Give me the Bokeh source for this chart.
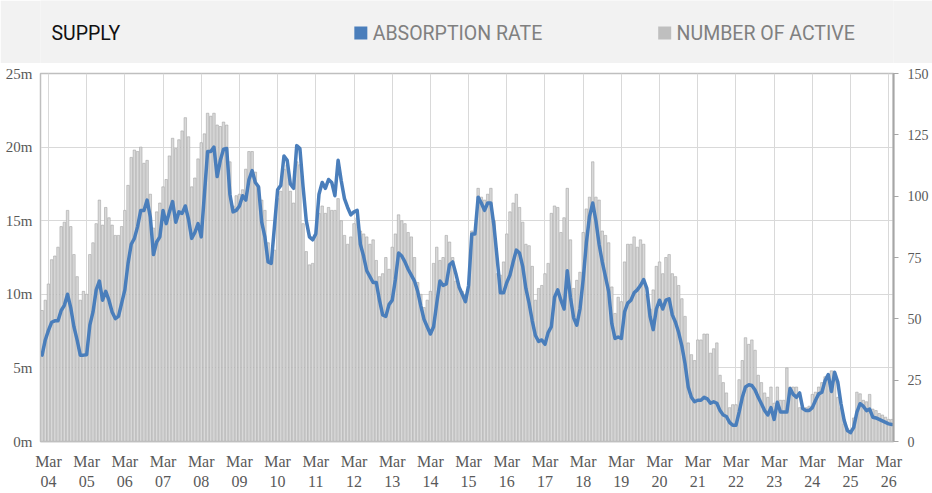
import pandas as pd
from bokeh.plotting import figure
from bokeh.models import Range1d, LinearAxis, FixedTicker, ColumnDataSource, PrintfTickFormatter
from bokeh.layouts import column
from bokeh.core.properties import value
from bokeh.embed import file_html
from bokeh.resources import INLINE

# ---------------- data (monthly, Jan 2004 .. Apr 2026) ----------------
# NUMBER OF ACTIVE (bars, left axis, millions)
active = [
    8.9, 9.6, 10.7, 12.35, 12.6, 13.2, 14.6, 14.9, 15.7, 14.6, 12.7, 11.2,
    9.6, 10.2, 10.0, 12.7, 13.5, 14.8, 16.4, 14.7, 15.9, 15.2, 14.7, 14.0,
    14.0, 14.6, 15.7, 17.4, 19.3, 19.8, 19.7, 20.0, 18.9, 19.1, 16.8, 14.5,
    15.6, 16.2, 17.3, 17.8, 19.4, 20.6, 19.9, 20.5, 21.1, 22.0, 20.7, 17.3,
    17.9, 19.2, 20.3, 20.9, 22.3, 22.1, 22.3, 21.5, 21.4, 21.7, 21.5, 19.0,
    16.0, 16.7, 16.8, 17.1, 18.5, 19.7, 19.7, 18.3, 17.3, 16.4, 15.7, 13.5,
    12.3, 13.0, 16.5, 17.0, 18.5, 18.8, 17.0, 16.2, 19.0, 18.8, 14.8, 12.9,
    12.0, 12.1, 14.0, 15.5, 16.0, 15.5, 15.9, 15.7, 15.7, 16.5, 15.0, 14.0,
    13.4, 13.9, 14.8, 15.2, 14.3, 14.1, 13.9, 13.4, 13.7, 12.3, 11.2, 11.4,
    12.5, 11.7, 13.2, 14.1, 15.4, 15.0, 14.8, 14.2, 13.9, 12.5, 10.8, 10.0,
    9.1, 9.6, 10.2, 12.1, 13.2, 12.3, 12.5, 14.0, 13.55, 12.5, 10.9, 10.5,
    10.2, 10.0, 10.5, 14.3, 14.1, 17.2, 16.6, 16.4, 16.8, 17.2, 15.0, 11.4,
    11.3, 12.2, 14.1, 15.6, 16.2, 16.8, 15.9, 14.9, 13.4, 13.3, 11.9, 9.6,
    10.4, 10.6, 11.4, 12.1, 15.5, 16.0, 15.9, 14.2, 15.2, 17.2, 13.7, 10.4,
    10.95, 11.5, 14.2, 15.8, 16.6, 19.0, 16.6, 16.4, 14.3, 14.0, 13.5, 10.5,
    8.7, 9.8, 9.5, 12.2, 13.4, 13.4, 13.9, 13.2, 13.7, 13.4, 10.0, 9.0,
    10.3, 11.9, 12.2, 11.4, 12.5, 12.7, 11.4, 11.2, 10.6, 9.7, 8.5, 6.7,
    5.9, 5.5, 6.9, 6.9, 7.3, 7.3, 6.0, 6.3, 6.7, 4.5, 4.0, 3.3,
    2.3, 2.5, 2.5, 4.2, 5.5, 7.05, 6.6, 6.9, 6.2, 4.5, 4.0, 3.3,
    3.0, 3.7, 2.6, 3.7, 2.8, 2.8, 5.0, 3.7, 3.7, 3.7, 2.3, 2.3,
    2.3, 2.4, 3.2, 3.35, 3.7, 4.0, 4.4, 4.5, 4.8, 4.2, 3.0, 2.3,
    1.2, 0.9, 0.75, 1.6, 3.35, 3.24, 2.8, 2.7, 3.2, 2.2, 2.1, 1.9,
    1.8, 1.65, 1.5, 1.5,
]

# ABSORPTION RATE (line, right axis 0..150)
absorption = [
    35.2, 41.4, 45.3, 48.6, 49.2, 49.2, 53.4, 55.5, 60.0, 54.6, 46.8, 41.4,
    35.2, 35.2, 35.4, 47.4, 52.8, 61.8, 65.4, 57.6, 61.2, 57.6, 52.8, 50.1,
    51.0, 56.4, 61.8, 72.6, 80.4, 82.8, 87.6, 94.2, 94.2, 98.4, 91.5, 76.2,
    81.3, 83.4, 94.2, 88.8, 93.6, 97.8, 89.4, 93.6, 93.0, 96.0, 90.6, 82.8,
    85.2, 88.8, 83.4, 100.8, 118.2, 118.2, 120.0, 108.0, 114.6, 119.1, 119.4, 100.8,
    93.6, 94.2, 96.0, 100.2, 98.4, 106.8, 110.4, 105.6, 103.8, 89.4, 83.4, 73.2,
    72.6, 87.6, 102.6, 104.4, 116.4, 114.6, 105.0, 103.2, 120.6, 119.4, 103.8, 90.0,
    83.4, 82.2, 84.6, 100.8, 105.6, 103.2, 106.8, 105.6, 100.2, 114.6, 106.2, 99.0,
    95.4, 92.4, 93.6, 94.2, 80.4, 75.6, 69.6, 67.2, 64.8, 64.8, 57.6, 51.6,
    51.0, 55.8, 57.6, 66.0, 76.8, 75.6, 73.2, 70.2, 67.8, 65.4, 61.2, 55.2,
    49.8, 46.8, 43.8, 46.8, 56.4, 65.4, 63.6, 64.2, 72.0, 73.2, 68.4, 63.0,
    60.0, 57.0, 63.6, 84.6, 84.6, 99.6, 97.2, 94.2, 97.2, 97.2, 87.6, 74.4,
    60.6, 60.6, 64.8, 67.8, 73.2, 78.0, 76.8, 71.4, 62.4, 56.4, 49.2, 43.2,
    40.8, 41.4, 39.6, 44.4, 46.8, 58.8, 61.8, 57.6, 54.0, 69.6, 58.8, 50.4,
    47.4, 54.0, 66.0, 81.0, 91.8, 97.2, 90.0, 80.4, 73.2, 67.2, 61.2, 48.0,
    42.0, 42.6, 42.0, 52.8, 56.4, 57.6, 60.6, 61.8, 63.6, 66.0, 62.4, 51.0,
    45.6, 54.0, 57.6, 54.0, 57.6, 58.2, 51.6, 48.6, 44.4, 39.0, 31.8, 22.2,
    18.0, 16.2, 16.8, 16.8, 18.0, 17.4, 15.6, 16.2, 15.6, 12.6, 10.8, 10.2,
    7.8, 6.6, 6.6, 12.0, 18.0, 22.2, 23.1, 22.8, 21.0, 18.0, 15.4, 12.6,
    10.8, 13.8, 9.0, 16.0, 12.0, 12.0, 12.0, 21.6, 19.2, 18.0, 19.8, 13.4,
    12.6, 12.6, 13.8, 16.8, 19.4, 20.1, 24.8, 27.3, 20.4, 28.2, 24.2, 15.4,
    8.6, 4.5, 3.6, 5.8, 12.0, 15.4, 14.4, 12.6, 13.2, 9.9, 9.6, 9.0,
    8.4, 7.8, 7.2, 6.9,
]

months = pd.date_range("2004-01-01", periods=len(active), freq="MS")
left_ticks = [0, 5, 10, 15, 20, 25]
right_ticks = [0, 25, 50, 75, 100, 125, 150]

title_text = "SUPPLY"
series_names = ["ABSORPTION RATE", "NUMBER OF ACTIVE"]
series_colors = ["#4a7ebb", "#bfbfbf"]

# ---------------- styling ----------------
SERIF = "Liberation Serif"
SANS = "Roboto"
TICK_COLOR = "#595959"
GRID = "#d9d9d9"
W = 932
HDR_H = 63
MAIN_H = 430

idx = list(range(len(active)))
src = ColumnDataSource(dict(x=idx, active=active, absorption=absorption))

mar_pos = [i for i, m in enumerate(months) if m.month == 3]
mar_labels = {i: "Mar\n" + months[i].strftime("%y") for i in mar_pos}

# ---------------- header band ----------------
hdr = figure(width=W, height=HDR_H, x_range=Range1d(0, W), y_range=Range1d(0, HDR_H),
             toolbar_location=None, tools="", output_backend="svg",
             x_axis_location=None, y_axis_location=None,
             min_border=0, min_border_left=0, min_border_right=0,
             min_border_top=0, min_border_bottom=0)
hdr.background_fill_color = "#f2f2f2"
hdr.border_fill_color = "#f2f2f2"
hdr.outline_line_color = None
hdr.grid.visible = False

hdr.text(x=[12], y=[30], text=[title_text], text_font=value(SANS),
         text_font_size="19.5px", text_baseline="middle", text_color="#111111")
hdr.scatter(x=[350, 682], y=[30.5, 30.5], marker="square", size=13,
            fill_color=series_colors, line_color=None)
hdr.text(x=[363, 695], y=[30, 30], text=series_names, text_font=value(SANS),
         text_font_size="19.5px", text_baseline="middle", text_color="#808080")

# ---------------- main chart ----------------
p = figure(width=W, height=MAIN_H, x_range=Range1d(-0.5, len(active) - 0.5),
           y_range=Range1d(0, 25), toolbar_location=None, tools="",
           output_backend="svg", min_border_left=40, min_border_right=39,
           min_border_top=10, min_border_bottom=52)
p.extra_y_ranges = {"right": Range1d(0, 150)}
p.background_fill_color = "white"
p.border_fill_color = "white"
p.outline_line_color = "#bfbfbf"
p.outline_line_width = 1.5

p.vbar(x="x", top="active", width=0.78, bottom=0, source=src,
       fill_color="#d9d9d9", line_color="#a6a6a6", line_width=0.6)
p.line(x="x", y="absorption", source=src, y_range_name="right",
       line_color=series_colors[0], line_width=3.5, line_join="round", line_cap="round")

# x axis
xa = p.xaxis[0]
xa.ticker = FixedTicker(ticks=mar_pos)
xa.major_label_overrides = mar_labels
xa.major_tick_line_color = None
xa.major_tick_out = 0
xa.major_tick_in = 0
xa.minor_tick_line_color = None
xa.axis_line_color = "#bfbfbf"
xa.axis_line_width = 1.5
xa.major_label_standoff = 11
xa.major_label_text_font = SERIF
xa.major_label_text_font_size = "16px"
xa.major_label_text_color = TICK_COLOR

# left axis
ya = p.yaxis[0]
ya.ticker = FixedTicker(ticks=left_ticks)
ya.formatter = PrintfTickFormatter(format="%dm")
ya.major_tick_line_color = None
ya.major_tick_out = 0
ya.major_tick_in = 0
ya.minor_tick_line_color = None
ya.axis_line_color = "#bfbfbf"
ya.major_label_standoff = 8
ya.major_label_text_font = SERIF
ya.major_label_text_font_size = "15px"
ya.major_label_text_color = TICK_COLOR

# right axis
ra = LinearAxis(y_range_name="right", ticker=FixedTicker(ticks=right_ticks))
ra.axis_line_color = "#a6a6a6"
ra.axis_line_width = 2
ra.major_tick_line_color = "#a6a6a6"
ra.major_tick_out = 5
ra.major_tick_in = 0
ra.minor_tick_line_color = None
ra.major_label_standoff = 9
ra.major_label_text_font = SERIF
ra.major_label_text_font_size = "14px"
ra.major_label_text_color = TICK_COLOR
p.add_layout(ra, "right")

# grids
p.xgrid.ticker = FixedTicker(ticks=mar_pos)
p.xgrid.grid_line_color = GRID
p.ygrid.ticker = FixedTicker(ticks=left_ticks)
p.ygrid.grid_line_color = GRID

layout = column(hdr, p, spacing=0)
open("out.html", "w").write(file_html(layout, INLINE))
